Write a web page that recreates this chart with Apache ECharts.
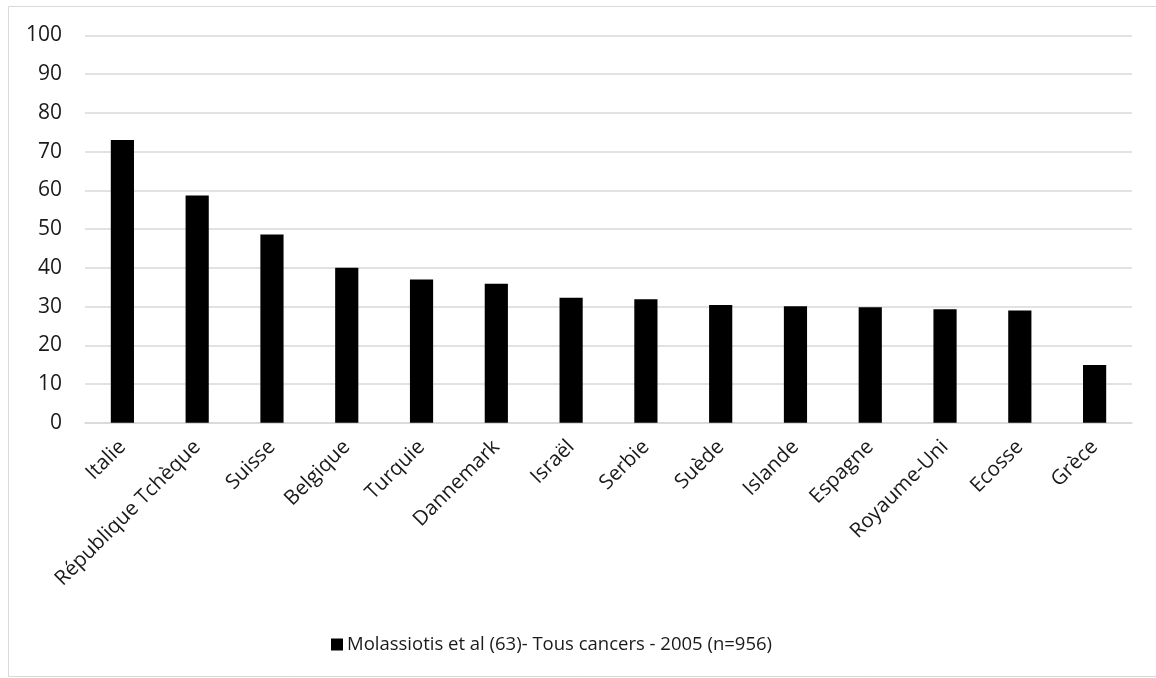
<!DOCTYPE html>
<html>
<head>
<meta charset="utf-8">
<script src="https://cdn.jsdelivr.net/npm/echarts@6/dist/echarts.min.js"></script>
<style>
  html, body { margin: 0; padding: 0; background: #fff; }
  #chart { width: 1156px; height: 678px; }
</style>
</head>
<body>
<div id="chart"></div>
<script>
// Countries, in descending order of the reported percentage
const categories = [
  'Italie', 'République Tchèque', 'Suisse', 'Belgique', 'Turquie', 'Dannemark',
  'Israël', 'Serbie', 'Suède', 'Islande', 'Espagne', 'Royaume-Uni', 'Ecosse', 'Grèce'
];
const seriesName = 'Molassiotis et al (63)- Tous cancers - 2005 (n=956)';
const values = [73.0, 58.7, 48.6, 40.0, 37.0, 35.9, 32.3, 31.9, 30.4, 30.1, 29.8, 29.3, 29.0, 14.9];
const yMin = 0;
const yMax = 100;
const yStep = 10;

const FONT = '"Open Sans", "Noto Sans", sans-serif';
const chart = echarts.init(document.getElementById('chart'), null, { renderer: 'canvas' });

chart.setOption({
  backgroundColor: '#ffffff',
  animation: false,
  graphic: [{
    type: 'rect',
    shape: { x: 8.5, y: 6.5, width: 1160, height: 670 },
    style: { fill: 'none', stroke: '#d9d9d9', lineWidth: 1 },
    silent: true
  }],
  grid: { left: 85, right: 24, top: 35.5, bottom: 255.3, containLabel: false },
  legend: {
    data: [seriesName],
    top: 630,
    left: 326,
    icon: 'rect',
    itemWidth: 12,
    itemHeight: 12,
    itemGap: 5,
    textStyle: { fontFamily: FONT, fontSize: 18.5, color: '#1a1a1a', padding: [0, 0, 0, -1] }
  },
  xAxis: {
    type: 'category',
    data: categories,
    axisLine: { lineStyle: { color: '#d9d9d9', width: 1.5 } },
    axisTick: { show: false },
    axisLabel: {
      interval: 0,
      rotate: 45,
      margin: 21,
      fontFamily: FONT,
      fontSize: 20.5,
      color: '#1a1a1a'
    }
  },
  yAxis: {
    type: 'value',
    min: yMin,
    max: yMax,
    interval: yStep,
    axisLine: { show: false },
    axisTick: { show: false },
    splitLine: { lineStyle: { color: '#d9d9d9', width: 1.5 } },
    axisLabel: { fontFamily: FONT, fontSize: 21, color: '#1a1a1a', margin: 23 }
  },
  series: [{
    name: seriesName,
    type: 'bar',
    data: values,
    barWidth: '31%',
    itemStyle: { color: '#000000' }
  }]
});
</script>
</body>
</html>
